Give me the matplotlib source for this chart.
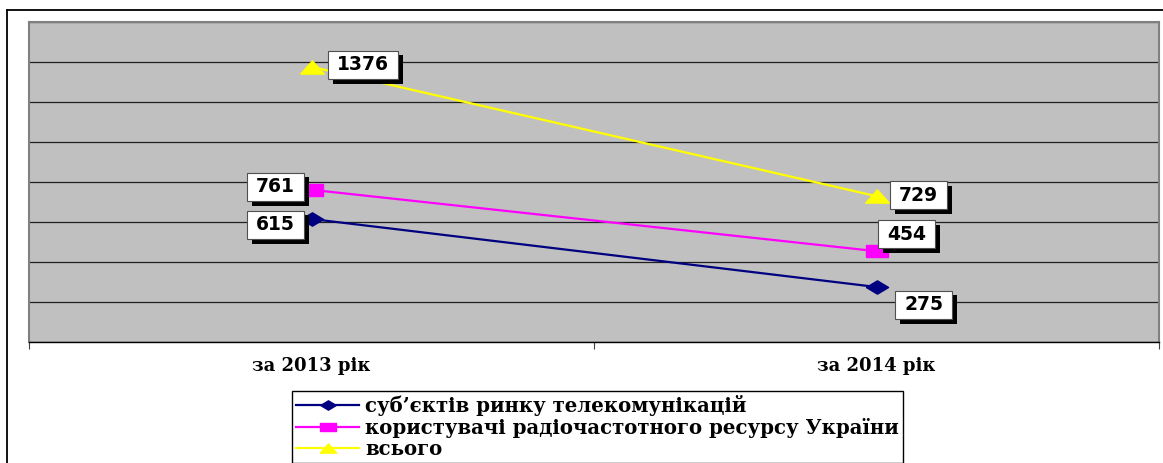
import matplotlib
matplotlib.use("Agg")
import matplotlib.pyplot as plt
import matplotlib.patheffects as pe
from matplotlib.lines import Line2D
from matplotlib.path import Path

# data
categories = ["за 2013 рік", "за 2014 рік"]
telecom = [615, 275]
radio = [761, 454]
total = [1376, 729]
series_names = [
    "суб’єктів ринку телекомунікацій",
    "користувачі радіочастотного ресурсу України",
    "всього",
]

W, H = 1163, 463
fig = plt.figure(figsize=(W / 100, H / 100), dpi=100)
ax = fig.add_axes([29 / W, 1 - 342 / H, 1130 / W, 320 / H])
ax.set_facecolor("#c0c0c0")

# wide markers (the original picture is stretched sideways)
diamond = [(-1, 0), (0, 0.6), (1, 0), (0, -0.6), (-1, 0)]
square = [(-1, -0.52), (1, -0.52), (1, 0.52), (-1, 0.52), (-1, -0.52)]
triangle = [(-1, -0.56), (1, -0.56), (0, 0.56), (-1, -0.56)]

x = list(range(len(categories)))
ax.plot(x, telecom, color="#000080", lw=1.6, marker=diamond, ms=16,
        mfc="#000080", mec="#000080", label=series_names[0], zorder=3)
ax.plot(x, radio, color="#ff00ff", lw=1.6, marker=square, ms=15.5,
        mfc="#ff00ff", mec="#ff00ff", label=series_names[1], zorder=3)
ax.plot(x, total, color="#ffff00", lw=1.6, marker=triangle, ms=17,
        mfc="#ffff00", mec="#ffff00", label=series_names[2], zorder=3)

ax.set_xlim(-0.5, 1.5)
ax.set_ylim(0, 1600)
ax.set_yticks(range(0, 1601, 200))
ax.yaxis.grid(True, color="#202020", lw=0.9)
ax.set_axisbelow(True)
ax.tick_params(axis="y", length=0, labelleft=False)

ax.set_xticks(x)
ax.set_xticklabels(categories, fontfamily="DejaVu Serif",
                   fontweight="bold", fontsize=13)
ax.set_xticks([-0.5, 0.5, 1.5], minor=True)
ax.tick_params(axis="x", which="major", length=0, pad=11)
ax.tick_params(axis="x", which="minor", length=5, width=0.8, color="#404040")

for side in ["left", "top", "right"]:
    ax.spines[side].set_color("#808080")
    ax.spines[side].set_linewidth(1.5)
ax.spines["bottom"].set_color("black")
ax.spines["bottom"].set_linewidth(1.0)


def label_box(x0, y0, width, height, mutation_size):
    # wider than tall padding, like the original labels
    px = 0.48 * mutation_size
    py = 0.25 * mutation_size
    verts = [(x0 - px, y0 - py), (x0 + width + px, y0 - py),
             (x0 + width + px, y0 + height + py), (x0 - px, y0 + height + py),
             (x0 - px, y0 - py)]
    return Path(verts, closed=True)


# data labels (pixel offsets from each point)
offsets = {
    "telecom": [(-36, -6), (47, -18)],
    "radio": [(-36, 3), (30, 17)],
    "total": [(51, 2), (42, 1)],
}
shadow = [pe.SimplePatchShadow(offset=(3.8, -3.3), shadow_rgbFace="black", alpha=1.0),
          pe.Normal()]
for key, vals in [("telecom", telecom), ("radio", radio), ("total", total)]:
    for i, v in enumerate(vals):
        dx, dy = offsets[key][i]
        t = ax.annotate(str(v), xy=(i, v), xytext=(dx, dy), textcoords="offset pixels",
                        ha="center", va="center", fontsize=13.5, fontweight="bold",
                        fontfamily="DejaVu Sans", zorder=5,
                        bbox=dict(boxstyle=label_box, fc="white",
                                  ec="#505050", lw=0.8))
        t.get_bbox_patch().set_path_effects(shadow)

leg = fig.legend(loc="upper left", bbox_to_anchor=(292 / W, 1 - 391 / H),
                 prop=dict(family="DejaVu Serif", weight="bold", size=14.2),
                 frameon=True, fancybox=False, edgecolor="black", framealpha=1,
                 borderaxespad=0, borderpad=0.2, handlelength=3.2,
                 handletextpad=0.3, labelspacing=0.08, markerscale=0.7)
leg.get_frame().set_linewidth(1.0)

# outer chart border
fig.add_artist(Line2D([7 / W, 1], [1 - 10 / H, 1 - 10 / H], color="black", lw=1.3))
fig.add_artist(Line2D([7 / W, 7 / W], [0, 1 - 10 / H], color="black", lw=1.3))

fig.savefig("out.png", dpi=100)
